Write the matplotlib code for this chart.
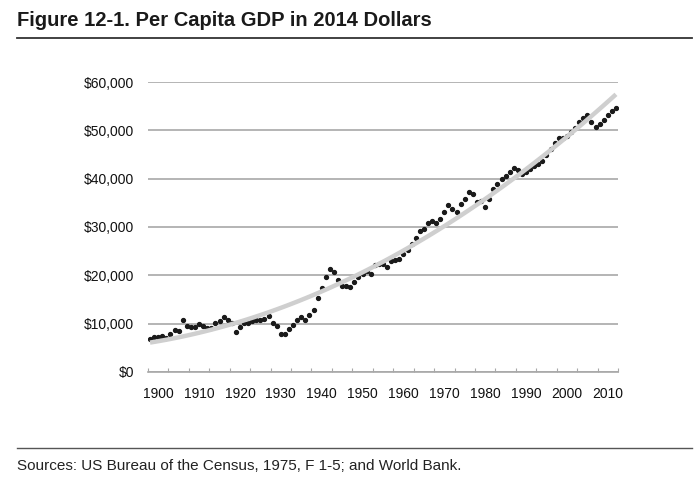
import numpy as np
import matplotlib
matplotlib.use("Agg")
import matplotlib.pyplot as plt
from matplotlib.ticker import FuncFormatter

plt.rcParams['font.family'] = ['Liberation Sans', 'DejaVu Sans']

# Per capita GDP, 2014 dollars, 1900-2014
years = np.arange(1900, 2015)
gdp = [
    6770, 7200, 7310, 7450, 7050, 7870, 8600, 8420, 10770, 9520,
    9400, 9350, 9940, 9520, 9080, 9080, 10070, 10630, 11320, 10730,
    10100, 8180, 9320, 10100, 10120, 10600, 10700, 10700, 11000, 11590,
    10240, 9450, 7870, 7870, 8860, 9800, 10860, 11450, 10830, 11760,
    12770, 15300, 17280, 19730, 21320, 20770, 19050, 17870, 17740, 17530,
    18700, 19730, 20290, 20900, 20350, 22150, 22300, 22360, 21800, 22980,
    23190, 23400, 24430, 25260, 26400, 27680, 29190, 29610, 30780, 31330,
    30780, 31680, 33190, 34640, 33680, 33190, 34710, 35880, 37330, 36920,
    35130, 35340, 34230, 35880, 37820, 38850, 39960, 40500, 41480, 42170,
    41890, 41000, 41410, 41960, 42650, 43060, 43750, 44930, 46100, 47480,
    48380, 48500, 48900, 49700, 50580, 51690, 52520, 53140, 51820, 50660,
    51280, 52240, 53140, 53900, 54720,
]
label_years = [1900, 1910, 1920, 1930, 1940, 1950, 1960, 1970, 1980, 1990, 2000, 2010]
y_ticks = [0, 10000, 20000, 30000, 40000, 50000, 60000]

fig = plt.figure(figsize=(6.98, 4.93), dpi=100)
ax = fig.add_axes([148 / 698, 1 - 372 / 493, 470 / 698, 290 / 493])

# second-order polynomial trend, like the spreadsheet trendline
coef = np.polyfit(years - 1900, gdp, 2)
trend = np.polyval(coef, years - 1900)

ax.plot(years, gdp, 'o', ms=2.8, color='#1a1a1a', zorder=3)
ax.plot(years, trend, color='#cfcfcf', lw=3.2, solid_capstyle='butt', zorder=4)

ax.set_xlim(1899.5, 2014.5)
ax.set_ylim(0, 60000)
ax.set_yticks(y_ticks)
ax.yaxis.set_major_formatter(FuncFormatter(lambda v, p: '${:,.0f}'.format(v)))
ax.grid(axis='y', color='#a8a8a8', lw=1.2, zorder=0)
ax.set_axisbelow(True)

# ticks on category boundaries every 5 years, labels every 10
ax.set_xticks(np.arange(1899.5, 2015, 5))
ax.set_xticklabels([])
ax.set_xticks([y + 2 for y in label_years], minor=True)
ax.set_xticklabels([str(y) for y in label_years], minor=True)
ax.tick_params(axis='x', which='major', direction='in', length=3, color='#a8a8a8')
ax.tick_params(axis='x', which='minor', length=0, pad=11, labelsize=10, labelcolor='#111111')
ax.tick_params(axis='y', length=0, pad=10, labelsize=10, labelcolor='#111111')

for s in ['top', 'right', 'left']:
    ax.spines[s].set_visible(False)
ax.spines['bottom'].set_color('#a8a8a8')
ax.spines['bottom'].set_linewidth(1.2)

fig.text(17 / 698, 1 - 20 / 493, 'Figure 12-1. Per Capita GDP in 2014 Dollars',
         fontsize=14.5, fontweight='bold', va='center', ha='left', color='#1a1a1a')
fig.add_artist(plt.Line2D([17 / 698, 692 / 698], [1 - 38 / 493, 1 - 38 / 493],
                          color='#333333', lw=1.3))
fig.add_artist(plt.Line2D([17 / 698, 692 / 698], [1 - 448 / 493, 1 - 448 / 493],
                          color='#555555', lw=1.0))
fig.text(17 / 698, 1 - 466 / 493, 'Sources: US Bureau of the Census, 1975, F 1-5; and World Bank.',
         fontsize=11, va='center', ha='left', color='#222222')

fig.savefig('out.png', dpi=100)
